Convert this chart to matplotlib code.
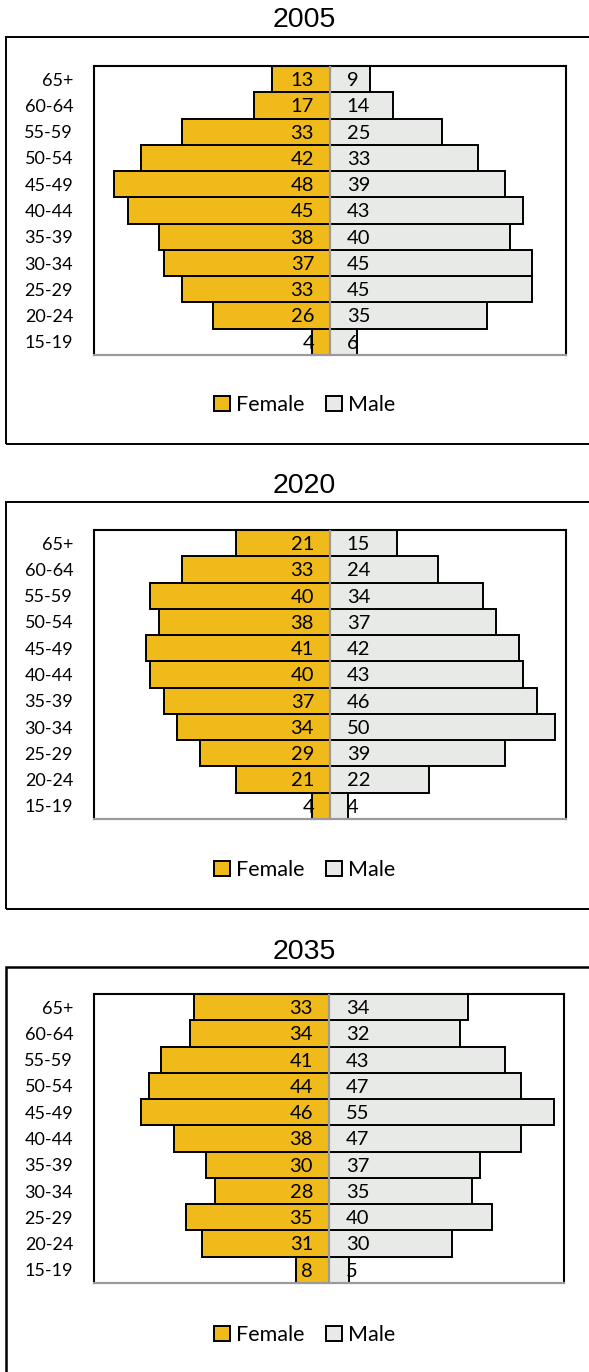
import numpy as np
import matplotlib
matplotlib.use("Agg")
import matplotlib.pyplot as plt
from matplotlib.patches import Patch, Rectangle

plt.rcParams['font.family'] = ['Lato', 'DejaVu Sans']

# age groups, bottom to top
ages = ["15-19", "20-24", "25-29", "30-34", "35-39", "40-44",
        "45-49", "50-54", "55-59", "60-64", "65+"]

years = ["2005", "2020", "2035"]

female_2005 = [4, 26, 33, 37, 38, 45, 48, 42, 33, 17, 13]
male_2005 = [6, 35, 45, 45, 40, 43, 39, 33, 25, 14, 9]

female_2020 = [4, 21, 29, 34, 37, 40, 41, 38, 40, 33, 21]
male_2020 = [4, 22, 39, 50, 46, 43, 42, 37, 34, 24, 15]

female_2035 = [8, 31, 35, 28, 30, 38, 46, 44, 41, 34, 33]
male_2035 = [5, 30, 40, 35, 37, 47, 55, 47, 43, 32, 34]

females = [female_2005, female_2020, female_2035]
males = [male_2005, male_2020, male_2035]
limits = [52.5, 52.5, 57.5]

W, H = 589, 1372
fem_col = "#F0BA1A"
male_col = "#E7EAE7"

# pixel layout of each panel: title y, box top, plot top, plot bottom, legend y, box bottom, plot right
layout = [
    (20, 37, 66, 355, 405, 444, 566),
    (486, 502, 530, 819, 870, 909, 566),
    (952, 967, 994, 1283, 1335, 1390, 564),
]

fig = plt.figure(figsize=(W / 100, H / 100), dpi=100)


def fx(px):
    return px / W


def fy(py):
    return 1 - py / H


for k in range(3):
    ty, btop, ptop, pbot, ly, bbot, pright = layout[k]
    fem = np.array(females[k])
    mal = np.array(males[k])
    y = np.arange(len(ages))

    # outer chart border
    fig.patches.append(Rectangle((fx(6), fy(bbot)), fx(620) - fx(6), fy(btop) - fy(bbot),
                                 transform=fig.transFigure, fill=False,
                                 edgecolor="black", lw=1.4 if k < 2 else 1.8))
    fig.text(fx(304), fy(ty), years[k], ha="center", va="center",
             fontsize=20.5, family=["Liberation Sans", "DejaVu Sans"])

    ax = fig.add_axes([fx(94), fy(pbot), fx(pright) - fx(94), fy(ptop) - fy(pbot)])
    ax.barh(y, -fem, height=1.0, color=fem_col, edgecolor="black", lw=1.4)
    ax.barh(y, mal, height=1.0, color=male_col, edgecolor="black", lw=1.4)
    ax.axvline(0, color="#9A9A9A", lw=1.6, zorder=3)

    for i in range(len(ages)):
        ax.annotate(str(fem[i]), (0, y[i]), xytext=(-11.5, -1), textcoords="offset points",
                    ha="right", va="center", fontsize=14.5, zorder=4)
        ax.annotate(str(mal[i]), (0, y[i]), xytext=(12, -1), textcoords="offset points",
                    ha="left", va="center", fontsize=14.5, zorder=4)

    ax.set_xlim(-limits[k], limits[k])
    ax.set_ylim(-0.5, len(ages) - 0.5)
    ax.set_yticks(y)
    ax.set_yticklabels(ages, fontsize=13)
    ax.set_xticks([])
    ax.tick_params(axis="y", length=0, pad=15)
    for s in ["top", "left", "right"]:
        ax.spines[s].set_color("black")
        ax.spines[s].set_linewidth(1.5)
    ax.spines["bottom"].set_color("#9A9A9A")
    ax.spines["bottom"].set_linewidth(1.6)

    handles = [Patch(facecolor=fem_col, edgecolor="black", lw=1.4, label="Female"),
               Patch(facecolor=male_col, edgecolor="black", lw=1.4, label="Male")]
    fig.legend(handles=handles, loc="center", bbox_to_anchor=(fx(305), fy(ly)),
               ncol=2, frameon=False, fontsize=15.5, handlelength=0.72, handleheight=0.72,
               handletextpad=0.3, columnspacing=1.0, borderaxespad=0)

fig.savefig("out.png", dpi=100)
